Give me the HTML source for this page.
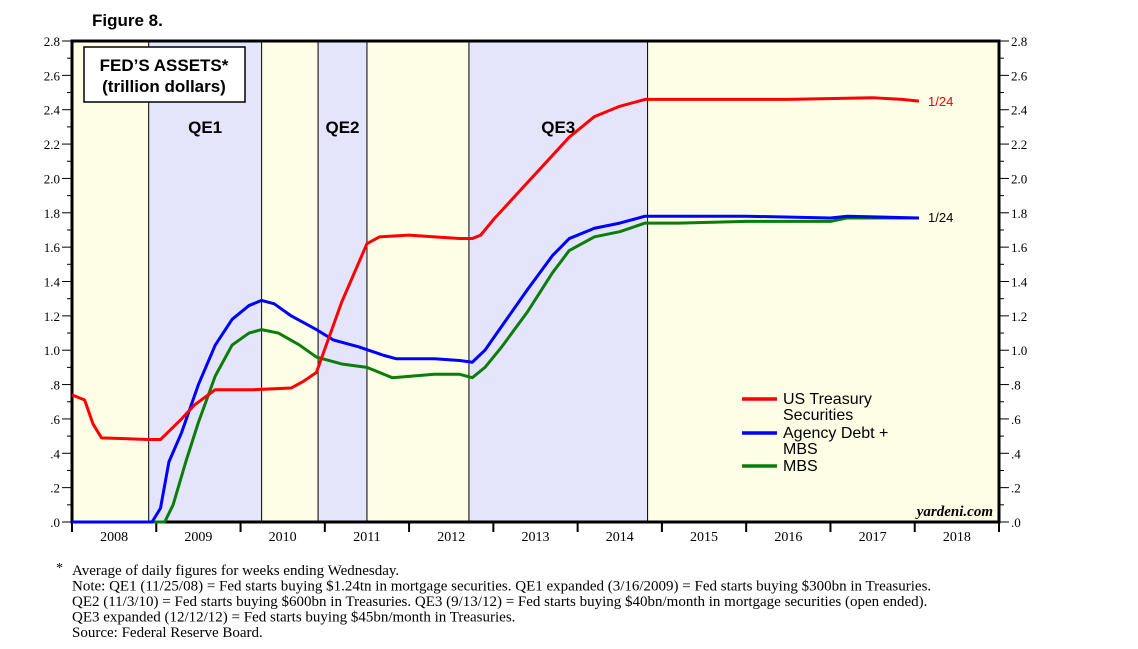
<!DOCTYPE html>
<html><head><meta charset="utf-8"><style>
body{margin:0;background:#fff;width:1138px;height:649px;overflow:hidden}
svg{position:absolute;left:0;top:0}
.s{font-family:"Liberation Sans",sans-serif}
.r{font-family:"Liberation Serif",serif}
</style></head><body>
<svg id="c" width="1138" height="649"></svg>
<script>
const years=["2008","2009","2010","2011","2012","2013","2014","2015","2016","2017","2018"];
const yTicks=[0,0.2,0.4,0.6,0.8,1.0,1.2,1.4,1.6,1.8,2.0,2.2,2.4,2.6,2.8];
const yLabels=[".0",".2",".4",".6",".8","1.0","1.2","1.4","1.6","1.8","2.0","2.2","2.4","2.6","2.8"];
const qeNames=["QE1","QE2","QE3"];
const qeStart=[2008.91,2010.92,2012.71];
const qeEnd=[2010.25,2011.5,2014.83];
const trT=[2008.0,2008.15,2008.25,2008.35,2008.9,2009.05,2009.3,2009.45,2009.7,2010.15,2010.6,2010.75,2010.9,2011.2,2011.5,2011.65,2012.0,2012.3,2012.6,2012.75,2012.85,2013.0,2013.3,2013.6,2013.9,2014.2,2014.5,2014.8,2015.5,2016.5,2017.5,2017.85,2018.05];
const trV=[0.74,0.71,0.57,0.49,0.48,0.48,0.6,0.68,0.77,0.77,0.78,0.82,0.87,1.28,1.62,1.66,1.67,1.66,1.65,1.65,1.67,1.76,1.92,2.08,2.24,2.36,2.42,2.46,2.46,2.46,2.47,2.46,2.45];
const agT=[2008.0,2008.95,2009.05,2009.15,2009.3,2009.5,2009.7,2009.9,2010.1,2010.25,2010.4,2010.6,2010.9,2011.1,2011.4,2011.7,2011.85,2012.3,2012.6,2012.75,2012.9,2013.1,2013.4,2013.7,2013.9,2014.2,2014.5,2014.8,2015.0,2016.0,2017.0,2017.2,2018.05];
const agV=[0,0,0.08,0.35,0.52,0.8,1.03,1.18,1.26,1.29,1.27,1.2,1.12,1.06,1.02,0.97,0.95,0.95,0.94,0.93,1.0,1.14,1.35,1.55,1.65,1.71,1.74,1.78,1.78,1.78,1.77,1.78,1.77];
const mbT=[2008.0,2009.1,2009.2,2009.35,2009.5,2009.7,2009.9,2010.1,2010.25,2010.45,2010.7,2010.9,2011.2,2011.5,2011.7,2011.8,2012.3,2012.6,2012.75,2012.9,2013.1,2013.4,2013.7,2013.9,2014.2,2014.5,2014.8,2015.2,2016.0,2017.0,2017.2,2018.05];
const mbV=[0,0,0.1,0.35,0.58,0.85,1.03,1.1,1.12,1.1,1.03,0.96,0.92,0.9,0.86,0.84,0.86,0.86,0.84,0.9,1.02,1.22,1.45,1.58,1.66,1.69,1.74,1.74,1.75,1.75,1.77,1.77];
const L=72,R=999,T=41,B=522;
const X=t=>L+(t-2008)*(R-L)/11;
const Y=v=>B-v*(B-T)/2.8;
const svg=document.getElementById('c');
function add(tag,attrs,txt){const e=document.createElementNS('http://www.w3.org/2000/svg',tag);for(const k in attrs)e.setAttribute(k,attrs[k]);if(txt!=null)e.textContent=txt;svg.appendChild(e);return e;}
let e=add('rect',{x:L,y:T,width:R-L,height:B-T,fill:'#fefee6'});


qeStart.forEach((s,i)=>{
 let r=add('rect',{x:X(s),y:T,width:X(qeEnd[i])-X(s),height:B-T,fill:'#e4e4fa',stroke:'#000','stroke-width':1});
 
 
 let t=add('text',{x:(X(s)+X(qeEnd[i]))/2,y:133,'text-anchor':'middle','font-size':17,'font-weight':'bold',class:'s'},qeNames[i]);
 
 
});
e=add('rect',{x:L,y:T,width:R-L,height:B-T,fill:'none',stroke:'#000','stroke-width':3});


for(let v=0;v<=2.8001;v+=0.1){
 const y=Y(v),maj=Math.round(v*10)%2===0;
 add('line',{x1:L-(maj?10:5),x2:L,y1:y,y2:y,stroke:'#000'});
 add('line',{x1:R,x2:R+(maj?10:5),y1:y,y2:y,stroke:'#000'});
}
yTicks.forEach((v,i)=>{
 let a=add('text',{x:L-12,y:Y(v)+5,'text-anchor':'end','font-size':13,class:'r'},yLabels[i]);
 
 
 let b=add('text',{x:R+12,y:Y(v)+5,'font-size':13,class:'r'},yLabels[i]);
 
 
});
years.forEach((yr,i)=>{
 add('line',{x1:X(2008+i),x2:X(2008+i),y1:B,y2:B+10,stroke:'#000','stroke-width':2});
 let t=add('text',{x:X(2008.5+i),y:B+19,'text-anchor':'middle','font-size':14,class:'r'},yr);
 
 
});
add('line',{x1:R,x2:R,y1:B,y2:B+10,stroke:'#000','stroke-width':2});
function series(ts,vs,col,name){
 let p=add('polyline',{points:ts.map((t,i)=>X(t)+','+Y(vs[i])).join(' '),fill:'none',stroke:col,'stroke-width':3,'stroke-linejoin':'round'});
 
 
}
series(mbT,mbV,'#0a7d0a','mbs-line');
series(agT,agV,'#0000ff','agency-mbs-line');
series(trT,trV,'#ff0000','treasury-line');
e=add('text',{x:928,y:106,'font-size':13,fill:'#e00',class:'s'},'1/24');


e=add('text',{x:928,y:222,'font-size':13,class:'s'},'1/24');


e=add('rect',{x:84,y:47,width:161,height:55,fill:'#fff',stroke:'#000','stroke-width':1.5});


e=add('text',{x:164,y:71,'text-anchor':'middle','font-size':17,'font-weight':'bold',class:'s'},"FED’S ASSETS*");


e=add('text',{x:164,y:92,'text-anchor':'middle','font-size':17,'font-weight':'bold',class:'s'},"(trillion dollars)");


e=add('text',{x:92,y:26,'font-size':17,'font-weight':'bold',class:'s'},'Figure 8.');


[['#ff0000',399,['US Treasury','Securities']],['#0000ff',433,['Agency Debt +','MBS']],['#0a7d0a',466,['MBS']]].forEach(([c,y,lab])=>{
 let l=add('line',{x1:742,x2:777,y1:y,y2:y,stroke:c,'stroke-width':3.5});
 
 
 lab.forEach((s,j)=>{let t=add('text',{x:783,y:y+5+j*16,'font-size':16,class:'s'},s);
 
 });
});
e=add('text',{x:993,y:516,'text-anchor':'end','font-size':15,'font-style':'italic','font-weight':'bold',class:'r'},'yardeni.com');


const notes=["Average of daily figures for weeks ending Wednesday.","Note: QE1 (11/25/08) = Fed starts buying $1.24tn in mortgage securities. QE1 expanded (3/16/2009) = Fed starts buying $300bn in Treasuries.","QE2 (11/3/10) = Fed starts buying $600bn in Treasuries. QE3 (9/13/12) = Fed starts buying $40bn/month in mortgage securities (open ended).","QE3 expanded (12/12/12) = Fed starts buying $45bn/month in Treasuries.","Source: Federal Reserve Board."];
e=add('text',{x:56,y:572,'font-size':14,class:'r'},'*');


notes.forEach((n,i)=>{let t=add('text',{x:72,y:575+i*15.5,'font-size':15,class:'r'},n);
 
 });
</script>
</body></html>
